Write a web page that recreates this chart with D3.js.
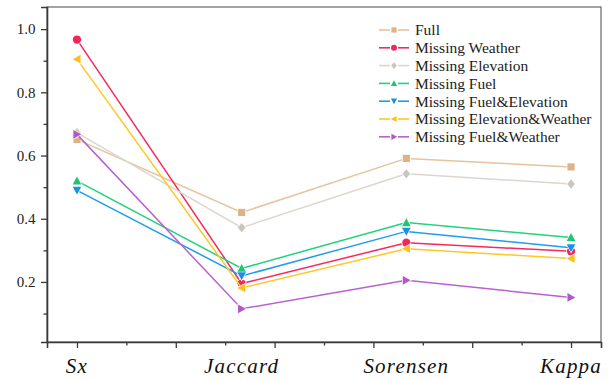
<!DOCTYPE html>
<html>
<head>
<meta charset="utf-8">
<script src="https://cdn.jsdelivr.net/npm/d3@7"></script>
<style>
  body { margin: 0; background: #fff; }
  svg { display: block; }
  .serif { font-family: "Liberation Serif", Tinos, "Times New Roman", "DejaVu Serif", serif; }
</style>
</head>
<body>
<svg id="chart" width="608" height="380"></svg>
<script>
// Similarity metrics per feature-ablation setting

const categories = ['Sx', 'Jaccard', 'Sorensen', 'Kappa'];

const seriesNames = [
    'Full',
    'Missing Weather',
    'Missing Elevation',
    'Missing Fuel',
    'Missing Fuel&Elevation',
    'Missing Elevation&Weather',
    'Missing Fuel&Weather'
];

const full = [0.651, 0.420, 0.591, 0.564];
const missingWeather = [0.967, 0.195, 0.324, 0.297];
const missingElevation = [0.672, 0.372, 0.542, 0.510];
const missingFuel = [0.520, 0.243, 0.388, 0.341];
const missingFuelElevation = [0.490, 0.219, 0.360, 0.308];
const missingElevationWeather = [0.905, 0.181, 0.305, 0.274];
const missingFuelWeather = [0.667, 0.115, 0.205, 0.151];

const yMajorTicks = [0.2, 0.4, 0.6, 0.8, 1.0];
const yMinorTicks = [0.1, 0.3, 0.5, 0.7, 0.9];
const xMajorTicks = [0, 0.6, 1.2, 1.8, 2.4, 3.0];
const xMinorTicks = [0.3, 0.9, 1.5, 2.1, 2.7];

const seriesValues = [full, missingWeather, missingElevation, missingFuel,
    missingFuelElevation, missingElevationWeather, missingFuelWeather];

// styling per series
const lineColors = ['#e6c39e', '#f7295c', '#dcd6d0', '#22d27c', '#1e9cee', '#ffc726', '#b862cf'];
const markColors = ['#dcb385', '#f5245a', '#cbc5bf', '#1cc672', '#1a90e6', '#ffbf1a', '#b257cc'];
const symbols = ['square', 'circle', 'diamond', 'up', 'down', 'left', 'right'];

const svg = d3.select('#chart');
const margin = { top: 7, right: 7, bottom: 38, left: 47 };
const width = 608, height = 380;
const serifFont = '"Liberation Serif", Tinos, "Times New Roman", "DejaVu Serif", serif';

const x = d3.scaleLinear()
    .domain([-0.182, 3.182])
    .range([margin.left, width - margin.right]);

const y = d3.scaleLinear()
    .domain([0.01, 1.07])
    .range([height - margin.bottom, margin.top]);

const axisColor = '#3a3a3a';

// frame
svg.append('rect')
    .attr('x', margin.left)
    .attr('y', margin.top)
    .attr('width', width - margin.left - margin.right)
    .attr('height', height - margin.top - margin.bottom)
    .attr('fill', 'none')
    .attr('stroke', '#666')
    .attr('stroke-width', 1.2);

// y axis
const yAxis = svg.append('g')
    .attr('transform', `translate(${margin.left},0)`)
    .call(d3.axisLeft(y).tickValues(yMajorTicks).tickSize(6).tickFormat(d3.format('.1f')));
svg.append('g')
    .attr('transform', `translate(${margin.left},0)`)
    .call(d3.axisLeft(y).tickValues(yMinorTicks).tickSize(3.5).tickFormat(''))
    .select('.domain').remove();

yAxis.attr('font-family', null).attr('font-size', null);
yAxis.selectAll('text')
    .attr('x', -11.5)
    .attr('class', 'serif')
    .attr('font-family', serifFont)
    .attr('font-size', 15)
    .attr('fill', '#222');

// x axis
svg.append('g')
    .attr('transform', `translate(0,${height - margin.bottom})`)
    .call(d3.axisBottom(x).tickValues(xMajorTicks).tickSize(6).tickFormat(''));
svg.append('g')
    .attr('transform', `translate(0,${height - margin.bottom})`)
    .call(d3.axisBottom(x).tickValues(xMinorTicks).tickSize(3.5).tickFormat(''))
    .select('.domain').remove();

svg.selectAll('.domain, .tick line')
    .attr('stroke', axisColor)
    .attr('stroke-width', 1.3);
svg.selectAll('.domain').attr('stroke-width', 1.6);

// category labels
svg.append('g').selectAll('text')
    .data(categories)
    .enter()
    .append('text')
    .attr('class', 'serif')
    .attr('x', (d, i) => x(i))
    .attr('y', 373)
    .attr('text-anchor', 'middle')
    .attr('font-family', serifFont)
    .attr('font-style', 'italic')
    .attr('font-size', 21)
    .attr('letter-spacing', 1.2)
    .attr('fill', '#111')
    .text(d => d);

// marker path builder
function symbolPath(type, size) {
    const s = size;
    switch (type) {
        case 'square': return `M${-s},${-s}H${s}V${s}H${-s}Z`;
        case 'circle': return d3.symbol(d3.symbolCircle, Math.PI * (s * 1.15) * (s * 1.15))();
        case 'diamond': return `M0,${-s * 1.3}L${s * 1.1},0L0,${s * 1.3}L${-s * 1.1},0Z`;
        case 'up': return `M0,${-s * 1.2}L${s * 1.2},${s}L${-s * 1.2},${s}Z`;
        case 'down': return `M0,${s * 1.2}L${s * 1.2},${-s}L${-s * 1.2},${-s}Z`;
        case 'left': return `M${-s * 1.2},0L${s},${-s * 1.2}L${s},${s * 1.2}Z`;
        case 'right': return `M${s * 1.2},0L${-s},${-s * 1.2}L${-s},${s * 1.2}Z`;
    }
}

const line = d3.line()
    .x((d, i) => x(i))
    .y(d => y(d));

const plot = svg.append('g');

seriesValues.forEach((vals, k) => {
    const g = plot.append('g');
    g.append('path')
        .attr('d', line(vals))
        .attr('fill', 'none')
        .attr('stroke', lineColors[k])
        .attr('stroke-width', 1.5);

    g.selectAll('path.mark')
        .data(vals)
        .enter()
        .append('path')
        .attr('class', 'mark')
        .attr('transform', (d, i) => `translate(${x(i)},${y(d)})`)
        .attr('d', symbolPath(symbols[k], 3.6))
        .attr('fill', markColors[k])
        .attr('stroke', '#fff')
        .attr('stroke-width', 1.4)
        .attr('paint-order', 'stroke');
});

// legend
const legend = svg.append('g')
    .attr('transform', 'translate(379, 30)');

const legendItems = legend.selectAll('g')
    .data(seriesNames)
    .enter()
    .append('g')
    .attr('transform', (d, i) => `translate(0, ${i * 17.8})`);

legendItems.append('line')
    .attr('x1', 0).attr('x2', 11)
    .attr('stroke', (d, i) => lineColors[i])
    .attr('stroke-width', 1.6);
legendItems.append('line')
    .attr('x1', 19).attr('x2', 30)
    .attr('stroke', (d, i) => lineColors[i])
    .attr('stroke-width', 1.6);
legendItems.append('path')
    .attr('transform', 'translate(15,0)')
    .attr('d', (d, i) => symbolPath(symbols[i], 2.6))
    .attr('fill', (d, i) => markColors[i]);

legendItems.append('text')
    .attr('class', 'serif')
    .attr('x', 36)
    .attr('y', 0)
    .attr('dy', '0.35em')
    .attr('font-family', serifFont)
    .attr('font-size', 15.5)
    .attr('fill', '#222')
    .text(d => d);
</script>
</body>
</html>
